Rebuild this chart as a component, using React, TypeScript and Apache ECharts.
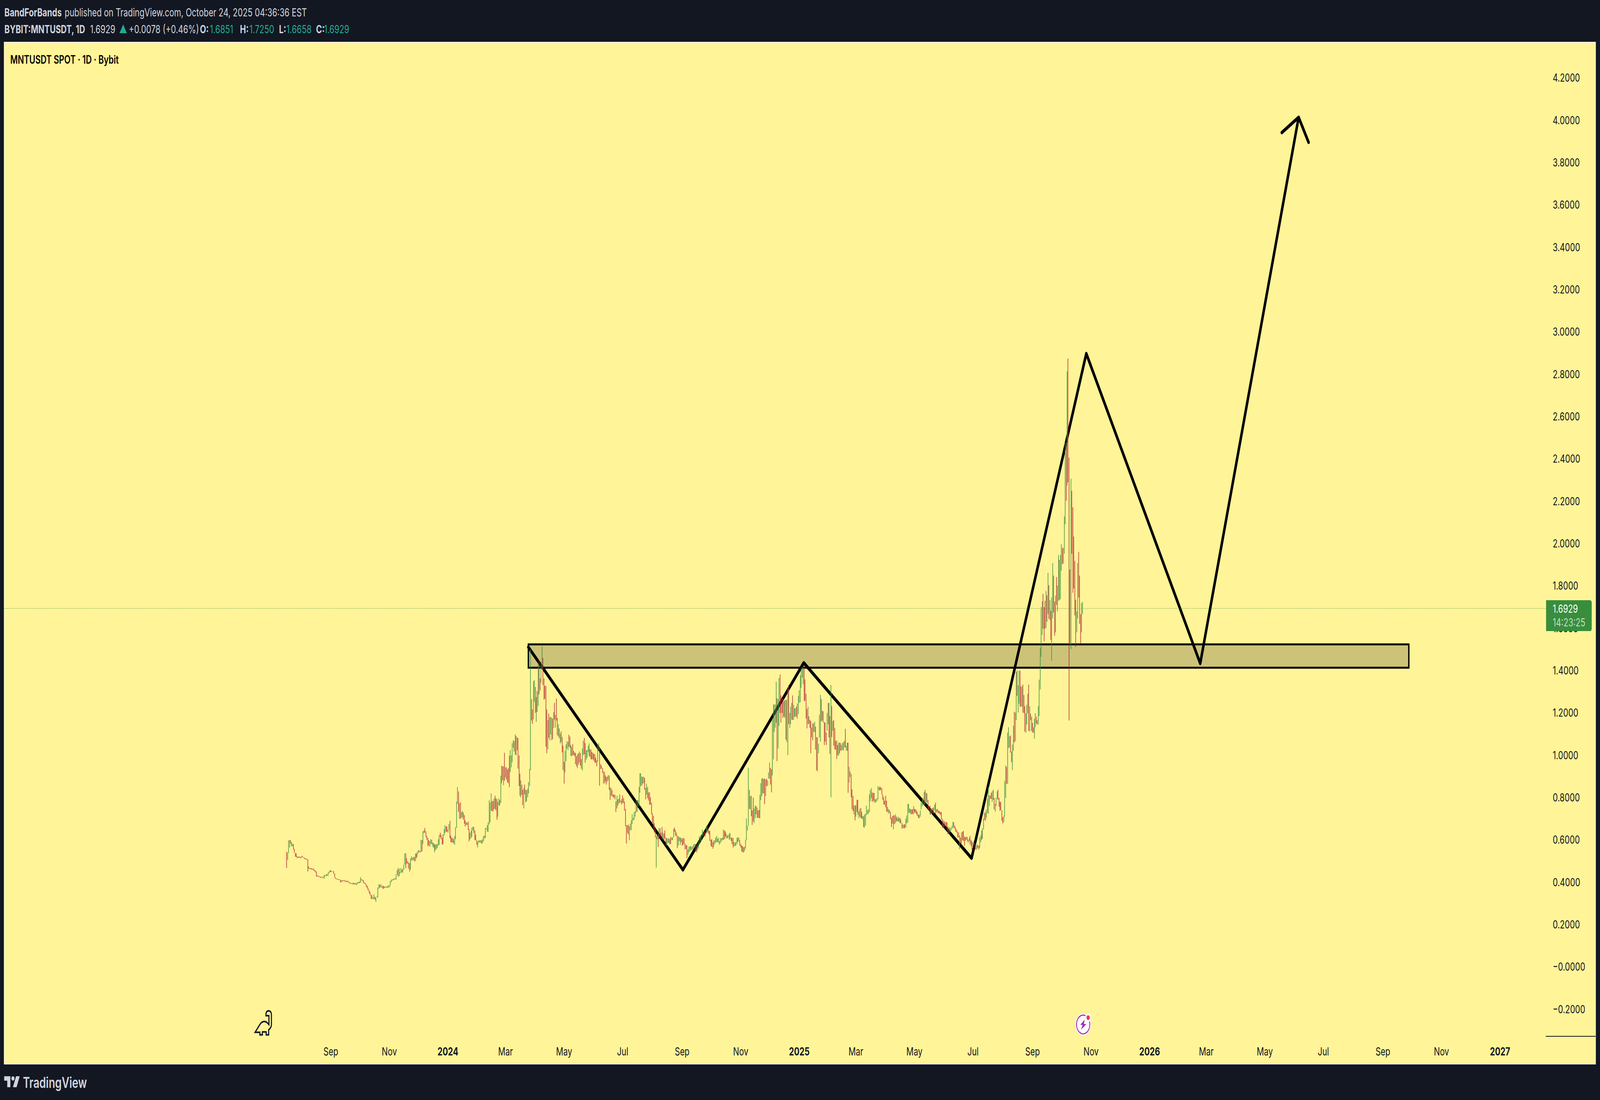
import * as echarts from "echarts";
import { useEffect, useRef } from "react";

// each bar is [open, close], wicks are not distinguishable at this zoom
const barsStart2023 = "2023-07-17";
const bars2023: number[][] = [
  [.543,.466],[.504,.540],[.538,.598],[.563,.598],[.598,.582],[.589,.570],[.568,.580],[.580,.554],[.557,.538],[.538,.520],
  [.536,.519],[.522,.513],[.520,.515],[.521,.515],[.520,.515],[.512,.520],[.525,.518],[.520,.516],[.516,.512],[.514,.508],
  [.512,.507],[.510,.506],[.508,.450],[.473,.464],[.467,.461],[.466,.461],[.466,.459],[.463,.459],[.464,.455],[.457,.452],
  [.455,.446],[.450,.427],[.432,.426],[.429,.425],[.429,.424],[.426,.422],[.425,.420],[.420,.424],[.426,.420],[.416,.434],
  [.426,.432],[.437,.430],[.429,.437],[.429,.444],[.441,.450],[.446,.457],[.455,.448],[.448,.452],[.450,.452],[.452,.439],
  [.441,.422],[.422,.415],[.417,.413],[.415,.412],[.414,.411],[.413,.409],[.411,.399],[.399,.409],[.409,.404],[.404,.409],
  [.409,.404],[.407,.402],[.406,.400],[.400,.406],[.406,.399],[.400,.397],[.399,.392],[.395,.392],[.395,.391],[.388,.397],
  [.397,.390],[.395,.388],[.395,.390],[.385,.397],[.393,.400],[.394,.401],[.395,.404],[.397,.423],[.414,.408],[.411,.406],
  [.409,.395],[.399,.393],[.395,.390],[.391,.377],[.383,.370],[.374,.360],[.362,.348],[.353,.337],[.339,.320],[.321,.339],
  [.328,.321],[.319,.342],[.331,.317],[.307,.326],[.328,.333],[.328,.375],[.369,.390],[.388,.374],[.376,.390],[.374,.381],
  [.383,.369],[.369,.381],[.379,.372],[.374,.379],[.374,.379],[.381,.374],[.374,.384],[.376,.386],[.384,.406],[.400,.411],
  [.407,.413],[.414,.409],[.411,.418],[.413,.418],[.411,.437],[.435,.457],[.426,.466],[.464,.428],[.441,.446],[.444,.466],
  [.459,.446],[.444,.464],[.459,.483],[.483,.535],[.537,.466],[.513,.487],[.499,.487],[.492,.464],[.490,.450],[.459,.513],
  [.501,.522],[.503,.515],[.505,.519],[.519,.498],[.499,.535],[.535,.512],[.519,.542],[.535,.550],[.550,.543],[.547,.540],
  [.543,.600],[.598,.545],[.580,.640],[.644,.632],[.656,.634],[.640,.614],[.618,.600],[.610,.570],[.598,.573],[.567,.594],
  [.580,.603],[.600,.580],[.568,.587],[.585,.563],[.541,.579],[.578,.550],[.556,.579],[.561,.580],[.572,.602],[.576,.623],
  [.634,.612],[.623,.603],[.610,.577],[.625,.579],[.620,.651],[.632,.669],[.664,.638],[.662,.638],[.648,.634],[.647,.674],
  [.690,.607],[.620,.589],[.610,.587],[.609,.587],[.603,.582],[.576,.618],[.603,.660],[.656,.780],[.770,.849],[.828,.732],
  [.699,.773],[.777,.699],[.704,.731],[.706,.736],[.729,.695],[.717,.676],[.692,.663],[.682,.670],[.670,.681],[.686,.647],
  [.651,.593],[.602,.634],[.607,.642],[.614,.658],[.644,.662],[.660,.632],[.644,.598],[.625,.598],[.598,.576],[.563,.591],
  [.585,.598],[.596,.589],[.586,.598],[.598,.582],[.584,.603],[.593,.618],[.605,.620],[.609,.655],[.649,.656],[.638,.669],
  [.637,.682],[.672,.787],[.682,.776],[.738,.819],[.783,.735],[.783,.734],[.744,.794],[.808,.746],[.797,.739],[.792,.695],
  [.709,.779],[.762,.796],[.788,.762],[.773,.903],[.867,.950],[.947,.882],[.858,.947],[1.011,.879],[.894,.942],[.942,.884],
  [.932,.872],[.939,.867],[.997,.849],[.920,1.024],[.942,.999],[.966,1.056],[1.035,1.070],[1.066,1.017],[1.003,1.098],[1.090,.999],
  [1.024,1.084],[1.081,.936],[.999,.854],[.912,.808],[.800,.881],[.861,.812],[.836,.764],[.748,.845],[.861,.814],[.836,.777],
  [.782,.835],[.800,.841],[.819,.872],[.854,.935],[.929,1.499],[1.265,1.163],[1.216,1.148],[1.169,1.349],[1.251,1.354],[1.322,1.200],
  [1.157,1.274],[1.303,1.204],[1.232,1.433],[1.450,1.287],[1.362,1.305],[1.342,1.441],[1.406,1.514],[1.459,1.331],[1.362,1.262],[1.327,1.266],
  [1.327,1.040],[1.216,1.009],[1.027,1.165],[1.197,1.082],[1.070,1.179],[1.097,1.181],[1.070,1.177],[1.172,1.075],
];

const barsStart2024 = "2024-04-20";
const bars2024: number[][] = [
  [1.128,1.203],[1.247,1.168],[1.130,1.190],[1.267,1.163],[1.176,1.094],[1.088,1.146],[1.126,1.080],[1.055,1.101],[1.112,1.062],[1.086,1.013],
  [1.044,.929],[.969,.865],[.918,1.020],[.971,1.050],[1.031,1.066],[1.024,1.062],[1.096,1.040],[1.088,1.035],[.997,1.048],[.994,1.040],
  [1.052,.999],[1.020,1.000],[1.013,.995],[1.010,.957],[.995,.947],[.938,1.004],[1.008,.955],[.965,1.017],[1.010,.951],[.981,.935],
  [.927,1.031],[1.000,1.068],[1.082,1.004],[1.057,.964],[.978,1.024],[.988,1.024],[1.015,1.044],[.997,1.055],[1.029,.991],[1.026,.980],
  [1.015,.980],[1.011,.980],[1.006,.973],[1.004,.965],[.988,.962],[.976,.947],[.969,1.048],[1.024,1.055],[1.040,.856],[.957,.935],
  [.935,.950],[.939,.916],[.865,.923],[.920,.867],[.876,.904],[.898,.861],[.874,.898],[.881,.905],[.904,.836],[.847,.789],
  [.808,.845],[.835,.806],[.814,.801],[.814,.799],[.812,.791],[.782,.731],[.748,.808],[.791,.761],[.771,.794],[.814,.775],
  [.776,.785],[.766,.792],[.810,.773],[.797,.773],[.780,.738],[.746,.664],[.669,.582],[.632,.669],[.671,.625],[.598,.664],
  [.646,.676],[.645,.692],[.674,.720],[.691,.704],[.695,.731],[.709,.735],[.729,.787],[.787,.732],[.757,.787],[.761,.850],
  [.823,.914],[.854,.914],[.898,.856],[.865,.898],[.867,.898],[.892,.836],[.845,.791],[.814,.865],[.849,.797],[.823,.785],
  [.825,.766],[.801,.766],[.775,.722],[.725,.678],[.713,.651],[.678,.634],[.653,.611],[.468,.616],[.625,.603],[.625,.566],
  [.603,.656],[.653,.616],[.634,.603],[.660,.607],[.598,.634],[.629,.594],[.644,.607],[.611,.572],[.573,.607],[.585,.605],
  [.585,.607],[.603,.580],[.613,.580],[.598,.611],[.598,.611],[.611,.651],[.658,.638],[.646,.620],[.634,.616],[.619,.561],
  [.572,.616],[.613,.594],[.576,.611],[.609,.589],[.603,.572],[.609,.576],[.607,.580],[.582,.554],[.576,.556],[.573,.513],
  [.529,.554],[.541,.567],[.545,.570],[.552,.570],[.550,.567],[.554,.570],[.558,.579],[.567,.580],[.579,.543],[.573,.541],
  [.550,.580],[.558,.591],[.580,.616],[.591,.620],[.594,.625],[.616,.647],[.618,.638],[.642,.618],[.638,.616],[.632,.664],
  [.635,.669],[.653,.632],[.642,.625],[.642,.594],[.600,.570],[.603,.567],[.589,.558],[.567,.598],[.580,.596],[.611,.588],
  [.589,.618],[.605,.589],[.585,.609],[.576,.594],[.585,.607],[.594,.609],[.598,.610],[.647,.600],[.644,.603],[.639,.616],
  [.607,.629],[.620,.607],[.611,.622],[.600,.629],[.603,.632],[.611,.594],[.609,.579],[.609,.563],[.570,.589],[.570,.587],
  [.572,.589],[.580,.610],[.610,.589],[.594,.611],[.598,.572],[.580,.563],[.572,.545],[.570,.541],[.565,.540],[.547,.567],
  [.558,.600],[.598,.700],[.644,.667],[.667,.940],[.836,.746],[.744,.806],[.808,.711],[.739,.670],[.799,.686],[.679,.748],
  [.702,.761],[.759,.720],[.704,.753],[.739,.704],[.741,.702],[.702,.812],[.788,.867],[.889,.806],[.819,.891],[.888,.819],
  [.889,.768],[.806,.885],[.888,.854],[.854,.881],[.889,.918],[.889,.965],[.940,.861],[.934,.824],[.904,1.172],[.980,1.239],
  [1.110,1.240],[1.130,1.239],[1.153,1.347],[1.268,.971],[1.031,1.265],[1.138,1.364],[1.380,1.199],[1.282,1.154],[1.269,1.199],
];

const barsStartWinter = "2024-12-15";
const barsWinter: number[][] = [
  [1.265,1.176],[1.256,1.181],[1.176,1.260],[1.260,1.073],[1.062,1.262],[1.000,1.313],[1.331,1.146],[1.128,1.199],[1.146,1.229],[1.168,1.247],
  [1.282,1.165],[1.168,1.238],[1.181,1.221],[1.181,1.221],[1.229,1.181],[1.172,1.243],[1.194,1.280],[1.247,1.306],[1.250,1.377],[1.318,1.409],
  [1.366,1.415],[1.335,1.415],[1.415,1.256],[1.358,1.256],[1.290,1.172],[1.218,1.126],[1.146,1.229],[1.183,1.147],[1.167,1.128],[1.161,1.009],
  [1.084,1.130],[1.150,1.070],[1.110,1.150],[1.108,1.158],[1.135,1.026],[1.085,.928],[.923,1.084],[1.009,1.054],[1.084,1.190],[1.064,1.285],
  [1.265,1.159],[1.209,1.163],[1.154,1.207],[1.156,1.048],[1.154,1.064],[1.107,1.048],[1.115,1.199],[1.146,1.247],[1.246,1.084],[1.185,1.006],
  [.801,1.331],[1.232,1.086],[1.115,1.161],[1.165,1.044],[1.128,1.026],[1.068,1.026],[1.068,.982],[1.048,1.000],[.997,1.059],[1.059,1.009],
  [1.057,1.020],[1.022,1.048],[1.024,1.057],[1.022,1.062],[1.035,1.068],[1.124,1.038],[1.022,1.044],[1.059,1.020],[1.059,.822],[.870,.945],
  [.897,.923],[.912,.801],[.838,.744],[.808,.735],[.720,.762],[.762,.692],[.709,.764],[.789,.731],[.789,.718],[.702,.735],
  [.709,.746],[.750,.702],[.732,.701],[.695,.713],[.711,.660],[.658,.720],[.667,.722],[.717,.761],[.720,.739],[.723,.744],
  [.731,.814],[.782,.835],[.797,.844],[.823,.779],[.822,.784],[.821,.779],[.775,.792],[.777,.792],[.784,.797],[.792,.854],
  [.847,.836],[.852,.832],[.847,.836],[.844,.814],[.814,.788],[.801,.766],[.785,.766],[.808,.753],[.784,.732],[.755,.732],
  [.723,.744],[.741,.727],[.731,.697],[.704,.660],[.713,.676],[.649,.715],[.715,.674],[.678,.720],[.686,.711],[.704,.688],
  [.686,.709],[.702,.685],[.704,.678],[.678,.695],[.679,.653],[.656,.671],[.672,.653],[.673,.656],[.658,.700],[.678,.715],
  [.681,.769],[.728,.770],[.748,.726],[.722,.744],[.744,.720],[.744,.722],[.720,.759],[.746,.731],[.744,.726],[.741,.722],
  [.731,.713],[.720,.704],[.718,.701],[.709,.739],[.744,.775],[.757,.794],[.766,.797],[.761,.826],[.836,.766],[.779,.823],
  [.819,.775],[.788,.744],[.761,.738],[.761,.720],[.720,.750],[.722,.748],[.750,.726],[.722,.753],[.739,.766],[.775,.722],
  [.744,.731],[.726,.746],[.739,.726],[.735,.722],[.732,.717],[.731,.695],[.699,.656],[.658,.691],[.688,.660],[.664,.682],
  [.685,.664],[.682,.642],[.662,.626],[.626,.656],[.638,.660],[.642,.653],[.651,.664],[.656,.685],[.682,.658],[.667,.651],
  [.656,.638],[.647,.634],[.638,.611],[.634,.611],[.556,.620],[.611,.582],[.582,.635],[.638,.598],[.642,.594],[.616,.573],
  [.594,.611],[.614,.600],
];

const barsStartSummer = "2025-06-25";
const barsSummer: number[][] = [
  [.613,.596],[.600,.587],[.593,.608],[.618,.578],[.600,.570],[.592,.554],[.562,.588],[.575,.595],[.583,.554],[.554,.572],
  [.554,.575],[.575,.562],[.572,.554],[.562,.611],[.588,.621],[.644,.600],[.605,.654],[.649,.700],[.727,.694],[.730,.690],
  [.704,.743],[.727,.793],[.723,.849],[.760,.809],[.809,.793],[.822,.793],[.779,.829],[.836,.789],[.798,.743],[.733,.770],
  [.760,.798],[.793,.829],[.836,.789],[.798,.756],[.779,.737],[.779,.740],[.740,.690],[.707,.677],[.682,.714],[.710,.878],
  [.798,.951],[.944,.864],[.864,1.106],[1.033,1.131],[1.036,1.089],[1.093,1.012],[1.017,.967],[.929,1.050],[1.020,1.139],[1.205,1.060],
  [1.065,1.201],[1.165,1.393],[1.399,1.280],[1.201,1.330],[1.243,1.399],[1.399,1.228],[1.325,1.231],[1.228,1.323],[1.333,1.201],[1.284,1.198],
  [1.231,1.111],[1.106,1.198],[1.145,1.238],[1.198,1.290],[1.333,1.114],[1.112,1.231],[1.195,1.165],[1.182,1.114],[1.152,1.106],[1.132,1.106],
  [1.078,1.172],[1.132,1.198],[1.182,1.149],[1.144,1.165],[1.145,1.231],[1.185,1.356],[1.310,1.505],[1.465,1.699],[1.567,1.726],[1.762,1.597],
  [1.699,1.538],[1.729,1.597],[1.600,1.775],[1.755,1.630],[1.666,1.861],[1.803,1.643],[1.638,1.732],[1.683,1.544],[1.445,1.745],[1.646,1.907],
  [1.848,1.673],[1.726,1.564],[1.580,1.754],[1.841,1.709],[1.679,1.801],[1.729,1.946],[1.923,1.732],[1.737,1.946],[1.871,1.996],[1.979,1.902],
  [1.905,1.979],[1.951,2.128],[2.091,2.474],[2.477,2.202],[2.273,2.813],[2.874,2.289],[2.405,1.163],[1.877,1.523],[1.501,2.306],[2.248,1.951],
  [2.171,1.767],[2.032,1.787],[1.917,1.660],[1.734,1.511],[1.580,1.679],[1.646,1.907],[1.960,1.745],[1.848,1.620],[1.666,1.528],[1.580,1.719],
  [1.666,1.724],
];

// drawn pattern on the chart: [date, price]
const zigzagDates = ["2024-03-24T19:00Z", "2024-09-01T19:00Z", "2025-01-05T17:00Z", "2025-06-29T12:00Z", "2025-10-27T00:00Z", "2026-02-22T17:00Z", "2026-06-05T05:00Z"];
const zigzagPrices = [1.51, 0.458, 1.436, 0.513, 2.897, 1.433, 4.013];
const arrowDates = ["2026-05-18T17:00Z", "2026-06-05T05:00Z", "2026-06-15T14:00Z"];
const arrowPrices = [3.941, 4.013, 3.895];
const zoneDates = ["2024-03-24T19:00Z", "2026-09-28T00:00Z"];
const zonePrices = [1.523, 1.413];

const lastPrice = 1.6929;
const priceTicks = [4.2, 4, 3.8, 3.6, 3.4, 3.2, 3, 2.8, 2.6, 2.4, 2.2, 2, 1.8, 1.6, 1.4, 1.2, 1, 0.8, 0.6, 0.4, 0.2, 0, -0.2];
const priceTickLabels = ["4.2000", "4.0000", "3.8000", "3.6000", "3.4000", "3.2000", "3.0000", "2.8000", "2.6000", "2.4000", "2.2000", "2.0000", "1.8000", "1.6000", "1.4000", "1.2000", "1.0000", "0.8000", "0.6000", "0.4000", "0.2000", "−0.0000", "−0.2000"];
const timeTicks = ["2023-09-01", "2023-11-01", "2024-01-01", "2024-03-01", "2024-05-01", "2024-07-01", "2024-09-01", "2024-11-01", "2025-01-01", "2025-03-01", "2025-05-01", "2025-07-01", "2025-09-01", "2025-11-01", "2026-01-01", "2026-03-01", "2026-05-01", "2026-07-01", "2026-09-01", "2026-11-01", "2027-01-01"];
const timeTickLabels = ["Sep", "Nov", "2024", "Mar", "May", "Jul", "Sep", "Nov", "2025", "Mar", "May", "Jul", "Sep", "Nov", "2026", "Mar", "May", "Jul", "Sep", "Nov", "2027"];

// header texts: [text, x, kind]
const headerLine1: [string, number, string][] = [
  ["BandForBands", 16, "b"],
  ["published on TradingView.com, October 24, 2025 04:36:36 EST", 234, "n"],
];
const headerLine2: [string, number, string][] = [
  ["BYBIT:MNTUSDT, 1D", 16, "b"],
  ["1.6929", 326, "n"],
  ["▲", 431, "t"],
  ["+0.0078 (+0.46%)", 466, "n"],
  ["O:", 723, "b"],
  ["1.6851", 759, "t"],
  ["H:", 868, "b"],
  ["1.7250", 902, "t"],
  ["L:", 1009, "b"],
  ["1.6658", 1036, "t"],
  ["C:", 1143, "b"],
  ["1.6929", 1172, "t"],
];

const WIDTH = 5787;
const HEIGHT = 2815;
const DARK = "#131722";
const PANE = "#fff498";
const UP = "#388e3c";
const DOWN = "#b22833";
const HEAD = "#d1d4dc";
const TEAL = "#22ab94";
const FONT = "Inter";

echarts.graphic.registerShape(
  "tvLogo",
  echarts.graphic.extendPath("M14 6H2v6h6v9h6V6zm12 15h-7l6-15h7l-6 15zm-7-9a3 3 0 1 0 0-6 3 3 0 0 0 0 6z", {})
);
echarts.graphic.registerShape(
  "dinoIcon",
  echarts.graphic.extendPath(
    "M22.7 71.7L40 51.7Q46.7 44 56.7 44Q65 44.7 72.7 52L72.7 29.3L62 29.3L62 24Q63.3 16.7 71.7 16.7Q81.7 17.3 81.7 27.3L81.7 51.7Q81.7 60 71.7 65.3L71.7 78.3L62.7 78.3L62.7 70.7L49 70.7L49 78.3L40 78.3L40 71.7Z",
    {}
  )
);

function candleData(start: string, bars: number[][]) {
  const t0 = Date.parse(start);
  return bars.map(([o, c], i) => [t0 + i * 86400000, o, c, Math.min(o, c), Math.max(o, c)]);
}

function points(dates: string[], prices: number[]) {
  return dates.map((d, i) => [Date.parse(d), prices[i]]);
}

function headerItems(line: [string, number, string][], y: number) {
  return line.map(([text, x, kind]) => ({
    type: "text",
    x,
    y,
    z: 100,
    style: {
      text,
      fontFamily: FONT,
      fontSize: 29,
      fontWeight: kind === "b" ? 700 : 400,
      fill: kind === "t" ? TEAL : HEAD,
      verticalAlign: "middle",
    },
  }));
}

function getChartOption() {
  const candles = [
    ...candleData(barsStart2023, bars2023),
    ...candleData(barsStart2024, bars2024),
    ...candleData(barsStartWinter, barsWinter),
    ...candleData(barsStartSummer, barsSummer),
  ];
  const xMin = Date.parse("2022-09-25T16:48Z");
  const xMax = Date.parse("2027-02-17T16:48Z");
  return {
    animation: false,
    backgroundColor: DARK,
    tooltip: { show: false },
    grid: { left: 15, right: 196, top: 108, bottom: 163 },
    xAxis: {
      // the time scale crashes on customValues, so dates stay plain ms on a value axis
      type: "value",
      min: xMin,
      max: xMax,
      axisLine: { show: false },
      axisTick: { show: false },
      splitLine: { show: false },
      axisLabel: {
        customValues: timeTicks.map((d) => Date.parse(d)),
        margin: 24,
        hideOverlap: false,
        color: "#131722",
        fontFamily: FONT,
        fontSize: 29,
        formatter: (v: number) => {
          const label = timeTickLabels[timeTicks.findIndex((d) => Date.parse(d) === v)];
          return /^\d/.test(label) ? `{y|${label}}` : label;
        },
        rich: { y: { fontFamily: FONT, fontSize: 29, fontWeight: 700, color: "#131722" } },
      },
    },
    yAxis: {
      type: "value",
      position: "right",
      min: -0.3285,
      max: 4.368,
      axisLine: { show: false },
      axisTick: { show: false },
      splitLine: { show: false },
      axisLabel: {
        customValues: priceTicks,
        margin: 25,
        align: "left",
        color: "#131722",
        fontFamily: FONT,
        fontSize: 29,
        formatter: (v: number) => priceTickLabels[priceTicks.findIndex((p) => Math.abs(p - v) < 1e-6)],
      },
    },
    series: [
      {
        type: "line",
        name: "pattern",
        z: 2,
        silent: true,
        symbol: "none",
        data: points(zigzagDates, zigzagPrices),
        lineStyle: { color: "#000", width: 9, cap: "round", join: "round" },
        markArea: {
          silent: true,
          z: 1,
          itemStyle: { color: "rgba(0,0,0,0.2)", borderColor: "#000", borderWidth: 5 },
          label: { show: false },
          data: [
            [
              { xAxis: Date.parse(zoneDates[0]), yAxis: zonePrices[0] },
              { xAxis: Date.parse(zoneDates[1]), yAxis: zonePrices[1] },
            ],
          ],
        },
      },
      {
        type: "line",
        name: "arrow",
        z: 2,
        silent: true,
        symbol: "none",
        data: points(arrowDates, arrowPrices),
        lineStyle: { color: "#000", width: 9, cap: "round", join: "round" },
      },
      {
        type: "line",
        name: "last",
        z: 3,
        silent: true,
        symbol: "none",
        data: [[xMin, lastPrice], [xMax, lastPrice]],
        lineStyle: { color: UP, width: 1.5, type: [2, 4] },
      },
      {
        type: "candlestick",
        name: "MNTUSDT",
        z: 4,
        silent: true,
        large: false, // large mode only strokes, and borderWidth is 0 here
        barWidth: 2.5,
        encode: { x: 0, y: [1, 2, 3, 4] },
        data: candles,
        itemStyle: { color: UP, color0: DOWN, borderColor: UP, borderColor0: DOWN, borderWidth: 0 },
      },
    ],
    graphic: [
      { type: "rect", z: -1, shape: { x: 15, y: 108, width: 5756, height: 2615 }, style: { fill: PANE, stroke: "#eef0f6", lineWidth: 2 } },
      { type: "line", z: 10, shape: { x1: 5591, y1: 2652, x2: 5771, y2: 2652 }, style: { stroke: "#131722", lineWidth: 2 } },
      ...headerItems(headerLine1, 32),
      ...headerItems(headerLine2, 75),
      { type: "text", x: 37, y: 152, z: 100, style: { text: "MNTUSDT SPOT · 1D · Bybit", fontFamily: FONT, fontSize: 29.5, fontWeight: 600, fill: "#000", verticalAlign: "middle" } },
      { type: "rect", z: 100, shape: { x: 5592, y: 1536, width: 165, height: 79, r: [0, 6, 6, 0] }, style: { fill: UP } },
      { type: "text", x: 5616, y: 1558, z: 101, style: { text: "1.6929", fontFamily: FONT, fontSize: 29, fill: "#fff", verticalAlign: "middle" } },
      { type: "text", x: 5616, y: 1593, z: 101, style: { text: "14:23:25", fontFamily: FONT, fontSize: 29, fill: "rgba(255,255,255,0.7)", verticalAlign: "middle" } },
      { type: "dinoIcon", x: 900, y: 2570, z: 10, style: { fill: "none", stroke: "#131722", lineWidth: 4 } },
      { type: "circle", z: 10, shape: { cx: 3917.7, cy: 2621.7, r: 28 }, style: { fill: "#fff" } },
      { type: "circle", z: 11, shape: { cx: 3917.7, cy: 2621.7, r: 24 }, style: { fill: "#fff", stroke: "#9c27b0", lineWidth: 3 } },
      { type: "polygon", z: 11, shape: { points: [[3923.3, 2609.3], [3907.3, 2622.7], [3916, 2622.7], [3910, 2635], [3929.3, 2620.7], [3920, 2620.7]] }, style: { fill: "#9c27b0" } },
      { type: "circle", z: 12, shape: { cx: 3935.7, cy: 2604.3, r: 11 }, style: { fill: "#fff" } },
      { type: "circle", z: 13, shape: { cx: 3935.7, cy: 2604.3, r: 6 }, style: { fill: "#f23645" } },
      { type: "tvLogo", x: 11.3, y: 2743, scaleX: 1.87, scaleY: 1.87, z: 100, style: { fill: HEAD } },
      { type: "text", x: 83, y: 2770, z: 100, style: { text: "TradingView", fontFamily: FONT, fontSize: 38, fontWeight: 600, fill: HEAD, verticalAlign: "middle" } },
    ],
  };
}

export default function App() {
  const chartRef = useRef<HTMLDivElement>(null);
  useEffect(() => {
    document.body.style.margin = "0";
    document.documentElement.style.overflow = "hidden";
    const chart = echarts.init(chartRef.current, null, { renderer: "svg" });
    chart.setOption(getChartOption());
    return () => {
      chart.dispose();
    };
  }, []);
  // the layout is the reference's 5787x2815, but the sandbox window measured 4096x2815,
  // so fit it to the real window (this narrows it horizontally there, no-op at full size)
  const fit = `scale(${window.innerWidth / WIDTH}, ${window.innerHeight / HEIGHT})`;
  return (
    <div
      ref={chartRef}
      style={{ position: "absolute", left: 0, top: 0, width: WIDTH, height: HEIGHT, transform: fit, transformOrigin: "0 0" }}
    />
  );
}
